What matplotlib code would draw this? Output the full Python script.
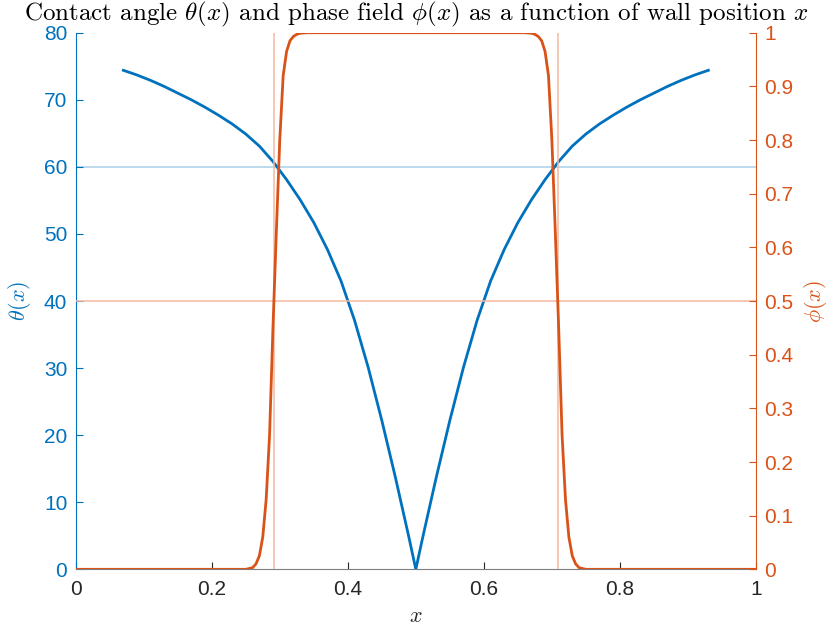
import matplotlib
matplotlib.use("Agg")
import matplotlib.pyplot as plt

# contact angle theta(x) [deg] along the wall
theta_x = [0.07, 0.09, 0.11, 0.13, 0.15, 0.17, 0.19, 0.21, 0.23, 0.25, 0.27, 0.29,
           0.31, 0.33, 0.35, 0.37, 0.39, 0.41, 0.43, 0.45, 0.47, 0.49, 0.50,
           0.51, 0.53, 0.55, 0.57, 0.59, 0.61, 0.63, 0.65, 0.67, 0.69, 0.71,
           0.73, 0.75, 0.77, 0.79, 0.81, 0.83, 0.85, 0.87, 0.89, 0.91, 0.93]
theta = [74.4, 73.7, 72.9, 72.0, 71.0, 70.0, 68.9, 67.7, 66.4, 64.9, 63.1, 60.8,
         58.1, 55.1, 51.7, 47.7, 43.0, 37.1, 30.1, 22.2, 13.7, 4.7, 0.0,
         4.7, 13.7, 22.2, 30.1, 37.1, 43.0, 47.7, 51.7, 55.1, 58.1, 60.8,
         63.1, 64.9, 66.4, 67.7, 68.9, 70.0, 71.0, 72.0, 72.9, 73.7, 74.4]

# phase field phi(x)
phi_x = [0.00, 0.25, 0.26, 0.265, 0.27, 0.275, 0.28, 0.285, 0.29, 0.295, 0.30, 0.305,
         0.31, 0.315, 0.32, 0.325, 0.33, 0.34, 0.66, 0.67, 0.675, 0.68, 0.685, 0.69,
         0.695, 0.70, 0.705, 0.71, 0.715, 0.72, 0.725, 0.73, 0.735, 0.74, 0.75, 1.00]
phi = [0.0, 0.0, 0.003, 0.01, 0.025, 0.06, 0.13, 0.25, 0.45, 0.63, 0.80, 0.92,
       0.965, 0.985, 0.993, 0.997, 0.999, 1.0, 1.0, 0.999, 0.997, 0.993, 0.985, 0.965,
       0.92, 0.80, 0.63, 0.45, 0.25, 0.13, 0.06, 0.025, 0.01, 0.003, 0.0, 0.0]

theta_ref = 60.0
phi_ref = 0.5
wall_ref = [0.2917, 0.7083]

x_ticks = [0, 0.2, 0.4, 0.6, 0.8, 1]
theta_ticks = [0, 10, 20, 30, 40, 50, 60, 70, 80]
phi_ticks = [0, 0.1, 0.2, 0.3, 0.4, 0.5, 0.6, 0.7, 0.8, 0.9, 1]

blue = "#0072BD"
orange = "#D95319"
light_blue = "#A9D0EA"
light_orange = "#F2B9A1"
grey = "#262626"

plt.rcParams["mathtext.fontset"] = "cm"
plt.rcParams["font.family"] = ["Liberation Sans", "DejaVu Sans"]

fig = plt.figure(figsize=(8.28, 6.33), dpi=100)
ax = fig.add_axes([0.0914, 0.1006, 0.8216, 0.8477])
ax2 = ax.twinx()

# left axis: theta
ax.axhline(theta_ref, color=light_blue, lw=1.1, zorder=1)
ax.plot(theta_x, theta, color=blue, lw=2.0, zorder=3)
ax.set_xlim(0, 1)
ax.set_ylim(0, 80)
ax.set_xticks(x_ticks)
ax.set_xticklabels(["%g" % t for t in x_ticks])
ax.set_yticks(theta_ticks)
ax.set_yticklabels(["%g" % t for t in theta_ticks])

# right axis: phi
ax2.axhline(phi_ref, color=light_orange, lw=1.1, zorder=1)
for xv in wall_ref:
    ax2.axvline(xv, color=light_orange, lw=1.1, zorder=1)
ax2.plot(phi_x, phi, color=orange, lw=2.0, zorder=3)
ax2.set_ylim(0, 1)
ax2.set_yticks(phi_ticks)
ax2.set_yticklabels(["%g" % t for t in phi_ticks])

for a in (ax, ax2):
    a.spines["top"].set_visible(False)
ax.spines["right"].set_visible(False)
ax2.spines["left"].set_visible(False)
ax2.spines["bottom"].set_visible(False)
ax.spines["left"].set_color(blue)
ax.spines["bottom"].set_color("#7f7f7f")
ax2.spines["right"].set_color(orange)

ax.tick_params(axis="y", direction="in", length=5, colors=blue, labelsize=15, pad=6)
ax.tick_params(axis="x", direction="in", length=5, color=grey, labelcolor=grey,
               labelsize=15, pad=8)
ax2.tick_params(axis="y", direction="in", length=5, colors=orange, labelsize=15, pad=6)

ax.set_xlabel(r"$x$", fontsize=16, color=grey, labelpad=5)
ax.set_ylabel(r"$\theta(x)$", fontsize=16, color=blue, labelpad=8)
ax2.set_ylabel(r"$\phi(x)$", fontsize=16, color=orange, labelpad=6, rotation=90)
ax.set_title(r"Contact angle $\theta(x)$ and phase field $\phi(x)$ as a function of wall position $x$",
             fontsize=18, family="cmr10", pad=9)

fig.savefig("out.png", dpi=100)
